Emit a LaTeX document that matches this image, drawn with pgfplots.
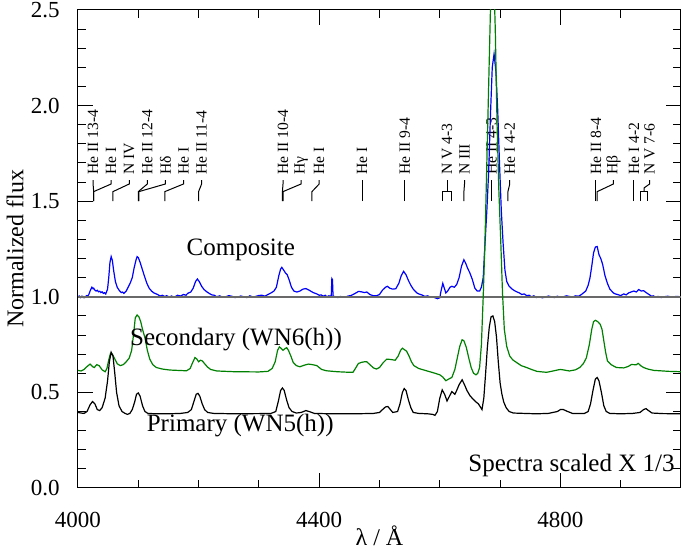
\documentclass[border=0pt]{standalone}
\usepackage{fontspec}
\setmainfont{Liberation Serif}
\usepackage{pgfplots}
\usepackage{pgfplotstable}
\pgfplotsset{compat=1.18}
\usetikzlibrary{calc}
\definecolor{sgreen}{RGB}{0,128,0}
\definecolor{lgray}{RGB}{105,105,105}
\newcommand{\lbl}[3]{%
 \draw[line width=0.5pt] (axis cs:#1,1.50) -- (axis cs:#1,1.55) -- (axis cs:#2,1.59) -- (axis cs:#2,1.61);
 \node[rotate=90,anchor=west,inner sep=0pt,font=\fontsize{7.8}{9}\selectfont] at (axis cs:#2,1.635) {#3};}

\pgfplotstableread{
x y
4000 0.395
4005 0.392
4010 0.39
4015 0.40
4020 0.435
4024 0.452
4028 0.44
4032 0.41
4036 0.405
4040 0.42
4045 0.47
4049 0.56
4052 0.66
4055 0.71
4058 0.69
4061 0.60
4064 0.50
4068 0.43
4073 0.40
4078 0.39
4082 0.385
4086 0.39
4090 0.41
4094 0.45
4097 0.49
4100 0.497
4103 0.48
4107 0.43
4111 0.40
4116 0.39
4130 0.388
4150 0.388
4170 0.39
4182 0.395
4188 0.41
4192 0.45
4196 0.49
4199 0.495
4202 0.48
4206 0.44
4210 0.41
4215 0.395
4225 0.39
4260 0.388
4300 0.389
4320 0.39
4328 0.40
4332 0.45
4336 0.51
4339 0.523
4342 0.51
4346 0.46
4350 0.42
4355 0.40
4362 0.392
4370 0.395
4378 0.405
4385 0.398
4392 0.39
4420 0.388
4460 0.388
4490 0.39
4500 0.395
4505 0.41
4510 0.424
4514 0.426
4518 0.41
4522 0.395
4530 0.40
4534 0.44
4538 0.50
4541 0.52
4544 0.51
4548 0.46
4552 0.42
4556 0.395
4565 0.39
4580 0.388
4588 0.385
4592 0.38
4596 0.40
4600 0.47
4604 0.513
4608 0.49
4612 0.455
4616 0.48
4620 0.504
4625 0.49
4628 0.51
4632 0.54
4637 0.566
4641 0.54
4645 0.51
4650 0.483
4655 0.465
4660 0.45
4664 0.44
4667 0.425
4670 0.41
4673 0.47
4676 0.60
4679 0.74
4682 0.84
4685 0.895
4688 0.90
4691 0.87
4694 0.79
4697 0.66
4700 0.55
4703 0.49
4706 0.45
4710 0.42
4715 0.40
4722 0.392
4740 0.39
4760 0.388
4780 0.39
4795 0.40
4800 0.41
4805 0.41
4812 0.40
4820 0.39
4840 0.39
4846 0.40
4850 0.44
4854 0.51
4858 0.57
4861 0.578
4864 0.56
4868 0.50
4872 0.43
4876 0.40
4882 0.39
4900 0.388
4920 0.39
4932 0.395
4938 0.41
4942 0.415
4946 0.405
4952 0.392
4970 0.389
5000 0.388
}\primary

\pgfplotstableread{
x y
4000 0.615
4005 0.612
4010 0.62
4015 0.635
4020 0.648
4024 0.635
4027 0.63
4031 0.645
4035 0.64
4040 0.618
4045 0.608
4048 0.625
4051 0.67
4054 0.705
4057 0.70
4061 0.675
4065 0.65
4070 0.64
4075 0.645
4080 0.66
4085 0.68
4089 0.72
4092 0.80
4095 0.89
4098 0.905
4101 0.895
4104 0.87
4107 0.83
4111 0.786
4115 0.72
4119 0.674
4124 0.645
4130 0.63
4140 0.622
4152 0.617
4165 0.615
4180 0.613
4186 0.625
4190 0.655
4194 0.682
4197 0.675
4200 0.66
4203 0.668
4206 0.665
4210 0.65
4215 0.632
4220 0.62
4230 0.612
4260 0.608
4300 0.607
4315 0.61
4322 0.625
4327 0.66
4331 0.72
4334 0.738
4337 0.73
4340 0.72
4343 0.728
4346 0.734
4349 0.72
4353 0.69
4357 0.656
4362 0.64
4368 0.634
4375 0.642
4382 0.648
4389 0.645
4396 0.64
4404 0.62
4412 0.613
4430 0.608
4450 0.605
4456 0.605
4460 0.625
4465 0.651
4470 0.657
4475 0.66
4479 0.66
4484 0.645
4490 0.628
4495 0.622
4500 0.63
4506 0.655
4512 0.674
4519 0.672
4526 0.668
4531 0.69
4535 0.72
4538 0.731
4542 0.722
4545 0.715
4549 0.69
4553 0.66
4557 0.64
4565 0.625
4578 0.613
4590 0.602
4600 0.592
4605 0.58
4610 0.561
4615 0.57
4620 0.578
4625 0.62
4629 0.68
4633 0.74
4637 0.775
4640 0.77
4644 0.735
4648 0.68
4652 0.63
4656 0.60
4660 0.592
4663 0.60
4666 0.63
4669 0.75
4672 1.00
4675 1.30
4678 1.70
4681 2.10
4684 2.50
4687 2.78
4690 2.62
4692 2.40
4695 1.90
4698 1.55
4701 1.30
4704 1.02
4707 0.83
4711 0.74
4716 0.69
4721 0.67
4727 0.657
4735 0.64
4744 0.63
4752 0.62
4761 0.61
4770 0.607
4777 0.605
4785 0.61
4795 0.617
4800 0.62
4806 0.617
4815 0.612
4825 0.618
4832 0.63
4838 0.65
4843 0.68
4848 0.75
4852 0.83
4855 0.87
4858 0.877
4862 0.87
4866 0.856
4869 0.83
4872 0.77
4875 0.71
4878 0.665
4884 0.645
4893 0.63
4905 0.628
4912 0.635
4918 0.646
4922 0.645
4926 0.645
4929 0.652
4933 0.64
4938 0.63
4945 0.622
4955 0.615
4965 0.613
4980 0.61
5000 0.608
}\secondary

\pgfplotstableread{
x y
4000 1.00
4002 1.004
4004 0.996
4006 1.003
4008 1.002
4010 0.995
4012 0.997
4014 1.006
4016 1.005
4018 1.012
4020 1.03
4023 1.05
4025 1.042
4026 1.045
4028 1.035
4030 1.03
4032 1.034
4034 1.026
4036 1.029
4038 1.022
4040 1.026
4042 1.018
4044 1.021
4046 1.015
4049 1.04
4051 1.10
4053 1.18
4055 1.21
4057 1.19
4059 1.14
4062 1.08
4065 1.05
4068 1.035
4070 1.028
4072 1.022
4074 1.025
4076 1.018
4078 1.024
4080 1.03
4084 1.055
4087 1.075
4090 1.10
4093 1.15
4096 1.19
4098 1.21
4100 1.205
4103 1.18
4106 1.15
4110 1.11
4114 1.072
4118 1.045
4122 1.03
4126 1.02
4129 1.016
4132 1.012
4136 1.004
4140 1.008
4144 1.001
4147 1.006
4151 0.999
4155 1.004
4160 0.998
4165 1.008
4170 1.004
4175 1.012
4179 1.008
4182 1.018
4187 1.025
4191 1.045
4195 1.08
4198 1.093
4201 1.08
4205 1.055
4209 1.038
4214 1.025
4219 1.015
4222 1.01
4226 1.008
4230 1.0
4235 1.005
4240 0.997
4245 1.0
4250 1.006
4255 1.003
4260 0.996
4265 0.998
4270 1.004
4275 1.0
4280 0.996
4285 1.005
4290 0.999
4295 1.002
4300 1.007
4305 1.008
4310 1.003
4315 1.012
4320 1.02
4325 1.03
4329 1.05
4333 1.11
4336 1.145
4338 1.154
4341 1.14
4344 1.125
4347 1.115
4350 1.09
4354 1.05
4358 1.03
4363 1.025
4368 1.03
4373 1.04
4378 1.043
4383 1.035
4390 1.022
4396 1.015
4400 1.008
4403 1.01
4407 1.003
4410 1.008
4413 1.0
4416 1.005
4420 1.003
4421 1.095
4422 1.09
4423 1.003
4428 1.0
4431 0.996
4435 1.002
4440 0.997
4445 1.0
4448 1.004
4452 1.006
4455 1.01
4458 1.015
4462 1.022
4465 1.028
4470 1.026
4475 1.022
4479 1.025
4484 1.012
4490 1.005
4495 1.005
4500 1.012
4505 1.035
4510 1.05
4513 1.055
4517 1.045
4522 1.04
4527 1.042
4532 1.07
4536 1.11
4540 1.133
4544 1.115
4548 1.085
4552 1.06
4556 1.04
4562 1.02
4566 1.014
4570 1.01
4575 1.002
4580 1.005
4584 0.998
4588 1.0
4592 0.995
4596 0.99
4600 0.995
4602 1.03
4605 1.07
4607 1.05
4610 1.02
4613 1.03
4617 1.05
4620 1.055
4624 1.05
4628 1.064
4632 1.10
4636 1.16
4640 1.194
4643 1.175
4646 1.15
4650 1.124
4654 1.09
4658 1.046
4662 1.03
4666 1.03
4669 1.05
4672 1.10
4675 1.28
4678 1.45
4681 1.65
4684 1.95
4687 2.20
4690 2.27
4693 2.18
4696 1.98
4699 1.70
4702 1.45
4705 1.28
4708 1.14
4711 1.08
4715 1.055
4720 1.04
4725 1.03
4729 1.024
4732 1.02
4736 1.012
4740 1.015
4744 1.006
4748 1.008
4752 1.0
4756 1.005
4760 0.996
4765 1.0
4770 0.995
4775 0.998
4780 1.004
4785 1.0
4790 0.996
4795 1.003
4800 0.997
4805 1.0
4810 1.005
4815 1.002
4820 0.998
4825 1.005
4830 1.003
4835 1.012
4842 1.03
4846 1.06
4849 1.098
4852 1.16
4855 1.23
4858 1.26
4861 1.263
4864 1.22
4867 1.20
4870 1.17
4874 1.11
4878 1.07
4882 1.04
4888 1.02
4891 1.015
4895 1.012
4900 1.006
4905 1.015
4909 1.01
4913 1.02
4918 1.026
4922 1.03
4926 1.025
4930 1.038
4934 1.03
4938 1.032
4943 1.02
4948 1.01
4951 1.003
4954 1.005
4958 0.998
4962 1.002
4967 0.996
4972 1.0
4978 1.003
4985 0.998
4992 1.002
5000 1.0
}\composite

\begin{document}
\begin{tikzpicture}
\begin{axis}[
  width=301.5pt, height=239pt, scale only axis,
  xmin=4000, xmax=5000, ymin=0, ymax=2.5,
  xtick={4000,4400,4800},
  minor xtick={4100,4200,4300,4500,4600,4700,4900},
  ytick={0,0.5,1,1.5,2,2.5},
  minor y tick num=4,
  tick align=inside,
  tick pos=both,
  major tick length=7.5pt, minor tick length=4pt,
  every tick/.style={black, line width=0.5pt},
  axis line style={line width=0.5pt},
  tick label style={font=\fontsize{11.5}{13}\selectfont},
  /pgf/number format/assume math mode=true,
  xticklabel style={/pgf/number format/set thousands separator={}, inner sep=0pt, anchor=north, yshift=-12pt},
  yticklabel style={/pgf/number format/fixed, /pgf/number format/fixed zerofill, /pgf/number format/precision=1, inner sep=0pt, anchor=east, xshift=-9pt},
  clip=true,
]
\coordinate (bl) at (rel axis cs:0,0);
\coordinate (tr) at (rel axis cs:1,1);
\coordinate (ml) at (rel axis cs:0,0.5);
\coordinate (bm) at (rel axis cs:0.5,0);

% line identifications
\lbl{4026}{4025}{He II 13-4}
\lbl{4026}{4055}{He I}
\lbl{4058}{4085}{N IV}
\lbl{4100}{4115}{He II 12-4}
\lbl{4101}{4145}{Hδ}
\lbl{4144}{4175}{He I}
\lbl{4200}{4205}{He II 11-4}
\lbl{4339}{4340}{He II 10-4}
\lbl{4340}{4370}{Hγ}
\lbl{4388}{4400}{He I}
\lbl{4471}{4471}{He I}
\lbl{4542}{4542}{He II 9-4}
\draw[line width=0.5pt] (axis cs:4604,1.50) -- (axis cs:4604,1.55) -- (axis cs:4620,1.55) -- (axis cs:4620,1.50);
\draw[line width=0.5pt] (axis cs:4612,1.55) -- (axis cs:4612,1.61);
\node[rotate=90,anchor=west,inner sep=0pt,font=\fontsize{7.8}{9}\selectfont] at (axis cs:4612,1.635) {N V 4-3};
\lbl{4640}{4641}{N III}
\lbl{4686}{4686}{He II 4-3}
\lbl{4713}{4716}{He I 4-2}
\lbl{4859}{4859}{He II 8-4}
\lbl{4861}{4888}{Hβ}
\lbl{4922}{4922}{He I 4-2}
\draw[line width=0.5pt] (axis cs:4933,1.50) -- (axis cs:4933,1.55) -- (axis cs:4945,1.55) -- (axis cs:4945,1.50);
\draw[line width=0.5pt] (axis cs:4939,1.55) -- (axis cs:4939,1.57) -- (axis cs:4948,1.59) -- (axis cs:4948,1.61);
\node[rotate=90,anchor=west,inner sep=0pt,font=\fontsize{7.8}{9}\selectfont] at (axis cs:4948,1.635) {N V 7-6};

% spectra
\addplot[blue, line width=0.6pt, no markers] table[x=x,y=y] {\composite};
\addplot[lgray, line width=1pt, no markers] coordinates {(4000,1) (5000,1)};
\addplot[sgreen, line width=0.6pt, no markers] table[x=x,y=y] {\secondary};
\addplot[black, line width=0.6pt, no markers] table[x=x,y=y] {\primary};

\node[font=\fontsize{12.5}{14}\selectfont] at (axis cs:4270,1.245) {Composite};
\node[font=\fontsize{12.5}{14}\selectfont] at (axis cs:4262,0.778) {Secondary (WN6(h))};
\node[font=\fontsize{12.5}{14}\selectfont] at (axis cs:4269,0.327) {Primary (WN5(h))};
\node[font=\fontsize{12.5}{14}\selectfont, anchor=east, inner sep=0pt] at (axis cs:4990,0.12) {Spectra scaled X 1/3};
\end{axis}
\node[rotate=90, font=\fontsize{12}{14}\selectfont] at ([xshift=-31.5pt]ml) {Normalized flux};
\node[font=\fontsize{12}{14}\selectfont, anchor=base] at ([yshift=-29pt]bm) {λ / Å};
\pgfresetboundingbox
\path[use as bounding box] ($(bl)+(-39pt,-33pt)$) rectangle ($(tr)+(0.5pt,5pt)$);
\end{tikzpicture}
\end{document}
